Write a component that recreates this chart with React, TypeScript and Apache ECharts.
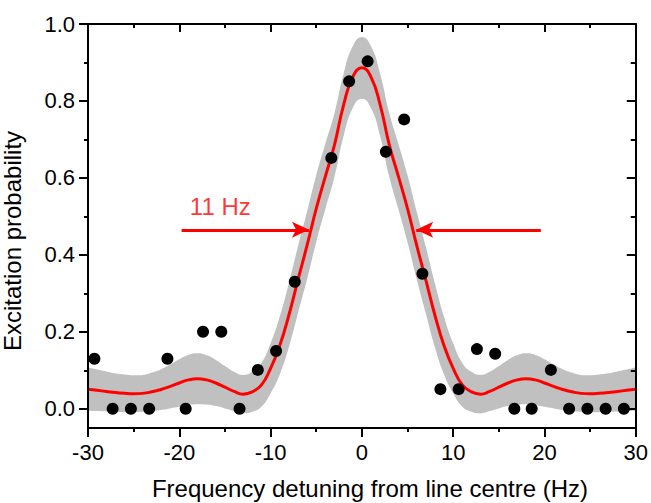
import React, { useEffect, useRef } from "react";
import * as echarts from "echarts";

// Fit curve sample positions (Hz)
const xs = [
  -30, -29, -28, -27, -26, -25, -24, -23, -22, -21, -20, -19, -18, -17, -16, -15, -14, -13, -12, -11,
  -10, -9, -8, -7, -6, -5, -4, -3, -2, -1, 0, 1, 2, 3, 4, 5, 6, 7, 8, 9, 10, 11, 12, 13, 14, 15, 16,
  17, 18, 19, 20, 21, 22, 23, 24, 25, 26, 27, 28, 29, 30,
];

// Fitted excitation probability
const fitCurve = [
  0.051, 0.048, 0.045, 0.042, 0.04, 0.039, 0.04, 0.044, 0.05, 0.058, 0.067, 0.075, 0.078, 0.075, 0.067,
  0.056, 0.045, 0.038, 0.044, 0.062, 0.105, 0.164, 0.243, 0.335, 0.425, 0.52, 0.604, 0.686, 0.79, 0.862,
  0.886, 0.862, 0.79, 0.686, 0.604, 0.52, 0.425, 0.335, 0.243, 0.164, 0.105, 0.062, 0.044, 0.038, 0.045,
  0.056, 0.067, 0.075, 0.078, 0.075, 0.067, 0.058, 0.05, 0.044, 0.04, 0.039, 0.04, 0.042, 0.045, 0.048,
  0.051,
];

// Confidence band (upper / lower)
const bandUpper = [
  0.107, 0.102, 0.097, 0.092, 0.089, 0.087, 0.088, 0.094, 0.103, 0.115, 0.129, 0.14, 0.144, 0.139, 0.127,
  0.111, 0.096, 0.088, 0.096, 0.119, 0.17, 0.239, 0.326, 0.422, 0.513, 0.607, 0.689, 0.769, 0.871, 0.942,
  0.966, 0.942, 0.871, 0.769, 0.689, 0.607, 0.513, 0.422, 0.326, 0.239, 0.17, 0.119, 0.096, 0.088, 0.096,
  0.111, 0.127, 0.139, 0.144, 0.14, 0.129, 0.115, 0.103, 0.094, 0.088, 0.087, 0.089, 0.092, 0.097, 0.102,
  0.107,
];
const bandLower = [
  -0.005, -0.006, -0.007, -0.008, -0.009, -0.009, -0.008, -0.006, -0.003, 0.001, 0.005, 0.01, 0.012, 0.011,
  0.007, 0.001, -0.006, -0.012, -0.008, 0.005, 0.04, 0.089, 0.16, 0.248, 0.337, 0.433, 0.519, 0.603, 0.709,
  0.782, 0.806, 0.782, 0.709, 0.603, 0.519, 0.433, 0.337, 0.248, 0.16, 0.089, 0.04, 0.005, -0.008, -0.012,
  -0.006, 0.001, 0.007, 0.011, 0.012, 0.01, 0.005, 0.001, -0.003, -0.006, -0.008, -0.009, -0.009, -0.008,
  -0.007, -0.006, -0.005,
];

// Measured points
const dataX = [
  -29.3, -27.3, -25.3, -23.3, -21.3, -19.3, -17.4, -15.4, -13.4, -11.4, -9.4, -7.35, -3.35, -1.4, 0.63,
  2.63, 4.63, 6.63, 8.6, 10.6, 12.6, 14.6, 16.7, 18.6, 20.7, 22.7, 24.7, 26.7, 28.7,
];
const dataY = [
  0.13, 0, 0, 0, 0.13, 0, 0.2, 0.2, 0, 0.101, 0.15, 0.33, 0.652, 0.851, 0.903, 0.668, 0.752, 0.351, 0.051,
  0.051, 0.155, 0.143, 0, 0, 0.101, 0, 0, 0, 0,
];

// Axis ticks
const yMajorTicks = [0, 0.2, 0.4, 0.6, 0.8, 1.0];
const yMinorTicks = [0.1, 0.3, 0.5, 0.7, 0.9];

// FWHM annotation
const fwhmLabel = "11 Hz";
const arrowY = 0.465;
const leftArrowX = [-19.75, -5.8];
const rightArrowX = [19.6, 5.95];
const labelPos = [-18.9, 0.526];

const FONT = 'Arial, "Liberation Sans", sans-serif';
const BLACK = "#000000";
const RED = "#ff0000";
const GREY = "#c0c0c0";

export default function App() {
  const ref = useRef<HTMLDivElement>(null);

  useEffect(() => {
    document.body.style.margin = "0";
    const chart = echarts.init(ref.current!, null, { renderer: "svg" });

    const axisLine = { show: true, onZero: false, lineStyle: { color: BLACK, width: 2 } };
    const noLine = { show: false, onZero: false };
    const tickLine = { color: BLACK, width: 2 };
    const yBase = { type: "value", min: -0.05, max: 1.0, z: 10, splitLine: { show: false } };

    const option: any = {
      animation: false,
      backgroundColor: "#ffffff",
      grid: { left: 88, right: 12, top: 24, bottom: 75 },
      xAxis: [
        {
          type: "value",
          position: "bottom",
          min: -30,
          max: 30,
          interval: 10,
          z: 10,
          axisLine,
          axisTick: { show: true, inside: false, length: 9, lineStyle: tickLine },
          minorTick: { show: true, splitNumber: 2, length: 4, lineStyle: tickLine },
          splitLine: { show: false },
          minorSplitLine: { show: false },
          axisLabel: { fontSize: 22, color: BLACK, fontFamily: FONT, margin: 13 },
        },
        {
          type: "value",
          position: "top",
          min: -30,
          max: 30,
          interval: 10,
          z: 10,
          axisLine,
          axisTick: { show: true, inside: true, length: 8, lineStyle: tickLine },
          minorTick: { show: true, splitNumber: 2, length: 4, lineStyle: tickLine },
          splitLine: { show: false },
          minorSplitLine: { show: false },
          axisLabel: { show: false },
        },
      ],
      yAxis: [
        {
          ...yBase,
          position: "left",
          axisLine,
          axisTick: { show: true, inside: false, length: 9, lineStyle: tickLine, customValues: yMajorTicks },
          axisLabel: {
            customValues: yMajorTicks,
            formatter: (v: number) => v.toFixed(1),
            fontSize: 22,
            color: BLACK,
            fontFamily: FONT,
            margin: 13,
          },
        },
        {
          ...yBase,
          position: "left",
          axisLine: noLine,
          axisTick: { show: true, inside: false, length: 4, lineStyle: tickLine, customValues: yMinorTicks },
          axisLabel: { show: false },
        },
        {
          ...yBase,
          position: "right",
          axisLine,
          axisTick: { show: true, inside: true, length: 9, lineStyle: tickLine, customValues: yMajorTicks },
          axisLabel: { show: false },
        },
        {
          ...yBase,
          position: "right",
          axisLine: noLine,
          axisTick: { show: true, inside: true, length: 5, lineStyle: tickLine, customValues: yMinorTicks },
          axisLabel: { show: false },
        },
      ],
      graphic: [
        {
          type: "text",
          x: 370,
          y: 488,
          silent: true,
          style: {
            text: "Frequency detuning from line centre (Hz)",
            fontSize: 24,
            fontFamily: FONT,
            fill: BLACK,
            align: "center",
            verticalAlign: "middle",
          },
        },
        {
          type: "text",
          x: 12,
          y: 241,
          rotation: Math.PI / 2,
          silent: true,
          style: {
            text: "Excitation probability",
            fontSize: 24,
            fontFamily: FONT,
            fill: BLACK,
            align: "center",
            verticalAlign: "middle",
          },
        },
      ],
      series: [
        {
          name: "bandUpper",
          type: "line",
          data: xs.map((x, i) => [x, bandUpper[i]]),
          symbol: "none",
          smooth: true,
          silent: true,
          lineStyle: { width: 0, opacity: 0 },
          areaStyle: { color: GREY, opacity: 1, origin: "start" },
          z: 1,
        },
        {
          name: "bandLower",
          type: "line",
          data: xs.map((x, i) => [x, bandLower[i]]),
          symbol: "none",
          smooth: true,
          silent: true,
          lineStyle: { width: 0, opacity: 0 },
          areaStyle: { color: "#ffffff", opacity: 1, origin: "start" },
          z: 2,
        },
        {
          name: "fit",
          type: "line",
          data: xs.map((x, i) => [x, fitCurve[i]]),
          symbol: "none",
          smooth: true,
          silent: true,
          lineStyle: { color: RED, width: 3 },
          z: 3,
        },
        {
          name: "data",
          type: "scatter",
          data: dataX.map((x, i) => [x, dataY[i]]),
          symbolSize: 12,
          itemStyle: { color: BLACK, opacity: 1 },
          silent: true,
          z: 4,
        },
        {
          name: "fwhm",
          type: "scatter",
          data: [labelPos],
          symbolSize: 1,
          itemStyle: { color: "rgba(0,0,0,0)" },
          silent: true,
          label: {
            show: true,
            position: "right",
            distance: 0,
            formatter: fwhmLabel,
            color: RED,
            fontSize: 24,
            fontFamily: FONT,
          },
          markLine: {
            silent: true,
            symbol: ["none", "arrow"],
            symbolSize: [12, 17],
            label: { show: false },
            lineStyle: { color: RED, width: 3, type: "solid" },
            emphasis: { disabled: true },
            data: [
              [{ coord: [leftArrowX[0], arrowY] }, { coord: [leftArrowX[1], arrowY] }],
              [{ coord: [rightArrowX[0], arrowY] }, { coord: [rightArrowX[1], arrowY] }],
            ],
          },
          z: 5,
        },
      ],
    };

    chart.setOption(option);
    return () => chart.dispose();
  }, []);

  return <div ref={ref} style={{ width: 651, height: 503 }} />;
}
